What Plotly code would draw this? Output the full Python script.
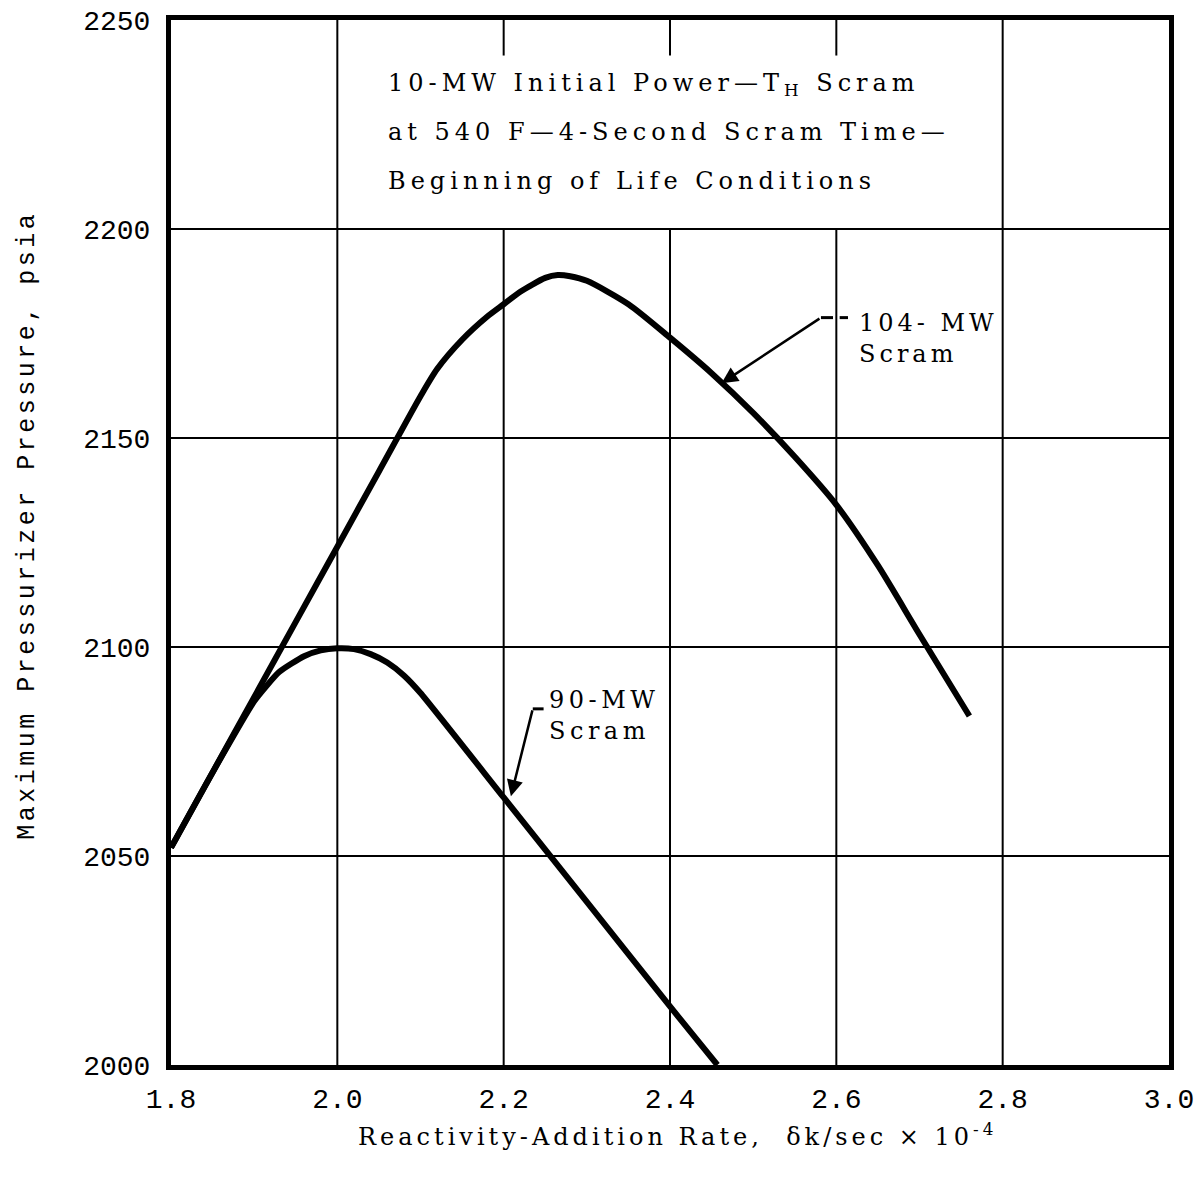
import plotly.graph_objects as go

# ---- data ----
rate_104 = [1.80, 1.85, 1.90, 1.95, 2.00, 2.05, 2.10, 2.12, 2.15, 2.18, 2.20, 2.22, 2.25, 2.265, 2.28, 2.30, 2.35, 2.40, 2.45, 2.50, 2.55, 2.60, 2.65, 2.70, 2.76]
pres_104 = [2052, 2070, 2088, 2106, 2124, 2142, 2160, 2166.5, 2173.5, 2179, 2182, 2185, 2188.3, 2189, 2188.7, 2187.6, 2182, 2174, 2165.5, 2156, 2145.5, 2134, 2119.5, 2103, 2083.5]

rate_90 = [1.80, 1.85, 1.90, 1.93, 1.96, 1.98, 2.00, 2.02, 2.04, 2.06, 2.08, 2.10, 2.20, 2.30, 2.40, 2.457]
pres_90 = [2052, 2070, 2087, 2094, 2097.8, 2099.2, 2099.7, 2099.5, 2098.3, 2096.3, 2093.2, 2089, 2064, 2039, 2014, 2000]

x_ticks = [1.8, 2.0, 2.2, 2.4, 2.6, 2.8, 3.0]
x_tick_labels = ["1.8", "2.0", "2.2", "2.4", "2.6", "2.8", "3.0"]
y_ticks = [2000, 2050, 2100, 2150, 2200, 2250]
y_tick_labels = ["2000", "2050", "2100", "2150", "2200", "2250"]

SERIF = "DejaVu Serif"
MONO = "Liberation Mono"


def spaced(txt, px):
    return '<span style="letter-spacing:%.1fpx">%s</span>' % (px, txt)


fig = go.Figure()
fig.add_trace(go.Scatter(x=rate_104, y=pres_104, mode="lines",
                         line=dict(color="black", width=6, shape="spline", smoothing=0.7),
                         showlegend=False, hoverinfo="skip"))
fig.add_trace(go.Scatter(x=rate_90, y=pres_90, mode="lines",
                         line=dict(color="black", width=6, shape="spline", smoothing=0.5),
                         showlegend=False, hoverinfo="skip"))

shapes = []
for xv in [2.0, 2.2, 2.4, 2.6, 2.8]:
    y_top = 2250 if xv in (2.0, 2.8) else 2200
    shapes.append(dict(type="line", xref="x", yref="y", x0=xv, x1=xv, y0=2000, y1=y_top,
                       line=dict(color="black", width=2), layer="below"))
for yv in [2050, 2100, 2150, 2200]:
    shapes.append(dict(type="line", xref="x", yref="y", x0=1.8, x1=3.0, y0=yv, y1=yv,
                       line=dict(color="black", width=2), layer="below"))
for xv in [2.2, 2.4, 2.6]:
    shapes.append(dict(type="line", xref="x", yref="y", x0=xv, x1=xv, y0=2241.5, y1=2250,
                       line=dict(color="black", width=2), layer="below"))
shapes.append(dict(type="line", xref="x", yref="y", x0=2.5815, x1=2.596, y0=2178.8, y1=2178.8,
                   line=dict(color="black", width=3)))
shapes.append(dict(type="line", xref="x", yref="y", x0=2.604, x1=2.614, y0=2178.8, y1=2178.8,
                   line=dict(color="black", width=3)))
shapes.append(dict(type="line", xref="x", yref="y", x0=2.235, x1=2.248, y0=2085.2, y1=2085.2,
                   line=dict(color="black", width=3)))

annotations = [
    dict(x=2.462, y=2163.1, ax=2.5815, ay=2178.8, xref="x", yref="y", axref="x", ayref="y",
         text="", showarrow=True, arrowhead=2, arrowsize=1.3, arrowwidth=2.5, arrowcolor="black"),
    dict(x=2.2087, y=2064.3, ax=2.235, ay=2085.2, xref="x", yref="y", axref="x", ayref="y",
         text="", showarrow=True, arrowhead=2, arrowsize=1.3, arrowwidth=2.5, arrowcolor="black"),
    dict(x=2.625, y=2173.8, xref="x", yref="y",
         text=spaced("104- MW", 4) + "<br>" + spaced("Scram", 4), showarrow=False,
         xanchor="left", yanchor="middle", align="left",
         font=dict(family=SERIF, size=24, color="black")),
    dict(x=2.252, y=2083.6, xref="x", yref="y",
         text=spaced("90-MW", 4.5) + "<br>" + spaced("Scram", 4.5), showarrow=False,
         xanchor="left", yanchor="middle", align="left",
         font=dict(family=SERIF, size=24, color="black")),
    dict(x=2.058, y=2234.5, xref="x", yref="y",
         text=spaced("10-MW Initial Power—T<sub>H</sub> Scram", 5), showarrow=False,
         xanchor="left", yanchor="middle", align="left",
         font=dict(family=SERIF, size=24, color="black")),
    dict(x=2.058, y=2223.2, xref="x", yref="y",
         text=spaced("at 540 F—4-Second Scram Time—", 5), showarrow=False,
         xanchor="left", yanchor="middle", align="left",
         font=dict(family=SERIF, size=24, color="black")),
    dict(x=2.058, y=2211.6, xref="x", yref="y",
         text=spaced("Beginning of Life Conditions", 5), showarrow=False,
         xanchor="left", yanchor="middle", align="left",
         font=dict(family=SERIF, size=24, color="black")),
    # axis titles
    dict(x=0, y=0.516, xref="paper", yref="paper", xshift=-143,
         text=spaced("Maximum Pressurizer Pressure, psia", 3.5), textangle=-90,
         showarrow=False, xanchor="center", yanchor="middle",
         font=dict(family=MONO, size=25, color="black")),
    dict(x=0.508, y=0, xref="paper", yref="paper", yshift=-70,
         text=spaced("Reactivity-Addition Rate,  δk/sec × 10<sup>-4</sup>", 4), showarrow=False,
         xanchor="center", yanchor="middle",
         font=dict(family=SERIF, size=24, color="black")),
]

fig.update_layout(
    width=1204, height=1183,
    margin=dict(l=163, r=43, t=12, b=126, autoexpand=False),
    paper_bgcolor="white", plot_bgcolor="white",
    shapes=shapes, annotations=annotations,
    xaxis=dict(range=[1.8, 3.0], tickvals=x_ticks, ticktext=x_tick_labels,
               showgrid=False, zeroline=False, showline=True, linecolor="black",
               linewidth=5, mirror=True, ticks="", automargin=False,
               ticklabeloverflow="allow", ticklabelstandoff=4,
               tickfont=dict(family=MONO, size=28, color="black")),
    yaxis=dict(range=[2000, 2250], tickvals=y_ticks, ticktext=y_tick_labels,
               showgrid=False, zeroline=False, showline=True, linecolor="black",
               linewidth=5, mirror=True, ticks="", automargin=False,
               ticklabeloverflow="allow", ticklabelstandoff=10,
               tickfont=dict(family=MONO, size=28, color="black")),
)

fig.write_html("out.html")
